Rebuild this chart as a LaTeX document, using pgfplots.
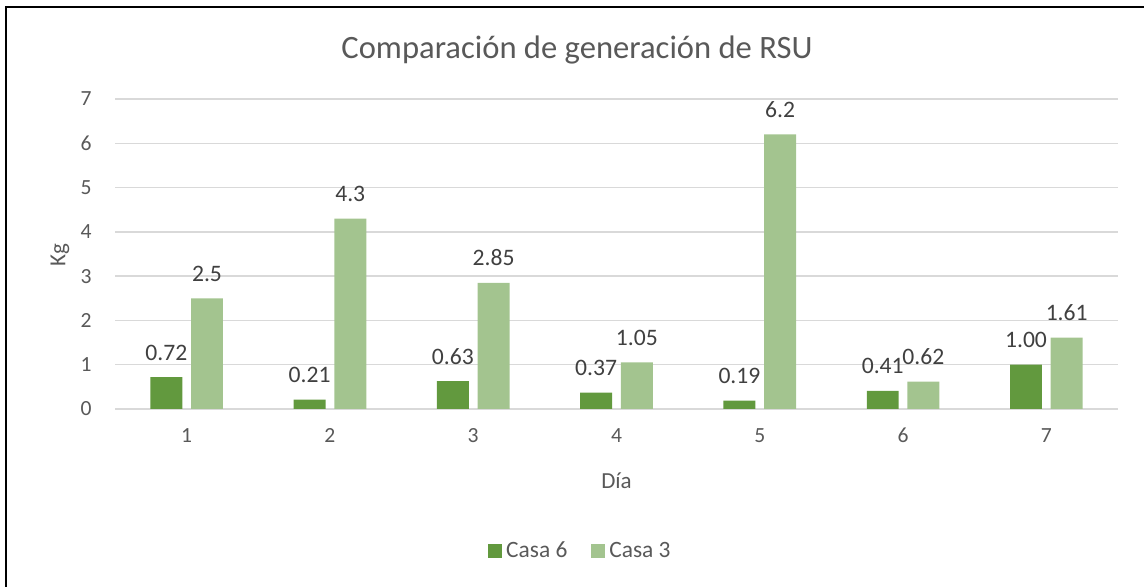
\documentclass[border=0pt]{standalone}
\usepackage{pgfplots}
\pgfplotsset{compat=1.18}
\usepackage{pgfplotstable}
\usepackage{fontspec}
\setmainfont{Carlito}
\definecolor{cA}{HTML}{62993E}
\definecolor{cB}{HTML}{A3C48F}
\definecolor{txtc}{HTML}{595959}
\definecolor{labc}{HTML}{404040}
\definecolor{gridc}{HTML}{D9D9D9}
\pgfplotstableread{
x c6 l6 c3 l3
1 0.72 0.72 2.5 2.5
2 0.21 0.21 4.3 4.3
3 0.63 0.63 2.85 2.85
4 0.37 0.37 1.05 1.05
5 0.19 0.19 6.2 6.2
6 0.41 0.41 0.62 0.62
7 1.00 1.00 1.61 1.61
}\datatable
\begin{document}
\begin{tikzpicture}
\useasboundingbox (0,0) rectangle (572pt,293.5pt);
\draw[black, line width=1.2pt] (3pt,-20pt) -- (3pt,290pt) -- (600pt,290pt);
\node[anchor=base, text=txtc, font=\fontsize{16.3}{18}\selectfont, inner sep=0] at (288.5pt,264pt) {Comparación de generación de RSU};
\begin{axis}[
  at={(57.5pt,89pt)}, anchor=south west,
  scale only axis, width=501.5pt, height=155pt,
  xmin=0.5, xmax=7.5, ymin=0, ymax=7,
  xtick={1,...,7}, ytick={0,...,7},
  axis line style={draw=none},
  major tick length=0pt,
  xtick style={draw=none}, ytick style={draw=none},
  xmajorgrids=false, ymajorgrids=true,
  major grid style={draw=gridc, line width=0.75pt},
  /pgf/number format/assume math mode=true,
  ticklabel style={text=txtc, font=\fontsize{10.8}{12}\selectfont, inner sep=0pt},
  xticklabel style={anchor=north, yshift=-9.5pt},
  yticklabel style={anchor=east, xshift=-11.5pt},
  xlabel={Día}, ylabel={Kg},
  label style={text=txtc, font=\fontsize{11.5}{14}\selectfont},
  xlabel style={at={(rel axis cs:0.5,-0.232)}, anchor=center},
  ylabel style={at={(rel axis cs:-0.0548,0.497)}, anchor=center},
  point meta=explicit symbolic,
  nodes near coords,
  nodes near coords style={text=labc, font=\fontsize{11.8}{13}\selectfont, anchor=base, inner sep=0pt, yshift=8.5pt},
  legend columns=2,
  legend style={draw=none, fill=none, at={(rel axis cs:0.465,-0.458)}, anchor=center,
     font=\fontsize{11.7}{13}\selectfont, text=txtc,
     /tikz/every even column/.append style={column sep=10pt}},
  legend image code/.code={\fill[#1] (0pt,-3.5pt) rectangle (7pt,3.5pt);},
  clip=false,
]
\addplot[ybar, bar width=0.223, bar shift=0, fill=cA, draw=none]
  table[x expr=\thisrow{x}-0.142, y=c6, meta=l6] {\datatable};
\addlegendentry{Casa 6}
\addplot[ybar, bar width=0.223, bar shift=0, fill=cB, draw=none]
  table[x expr=\thisrow{x}+0.142, y=c3, meta=l3] {\datatable};
\addlegendentry{Casa 3}
\end{axis}
\end{tikzpicture}
\end{document}
